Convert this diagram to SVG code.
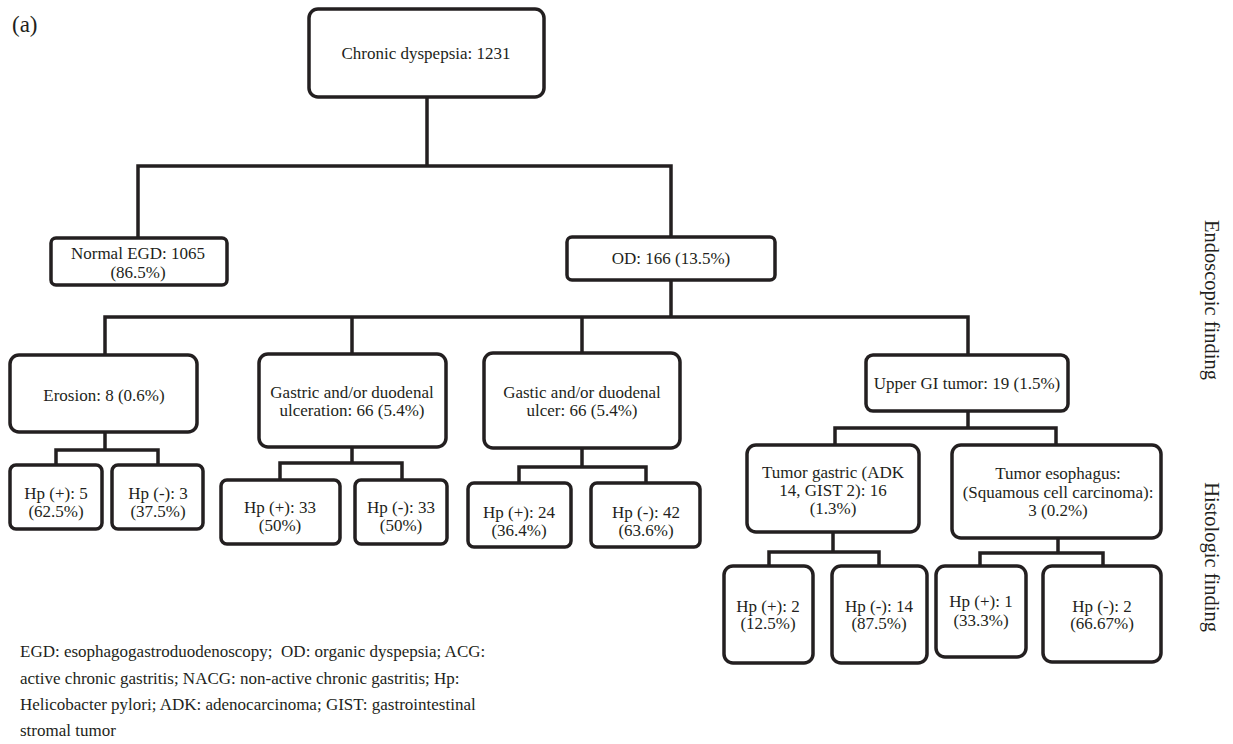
<svg xmlns="http://www.w3.org/2000/svg" width="1233" height="744" viewBox="0 0 1233 744">
<style>
.box{fill:#fff;stroke:#231f20;stroke-width:3.5}
.ln{fill:none;stroke:#231f20;stroke-width:3.5;stroke-linejoin:miter;stroke-linecap:square}
text{font-family:"Liberation Serif","Times New Roman",serif;font-size:17px;fill:#231f20}
.c{text-anchor:middle}
.cap{font-size:17px}
.side{font-size:20.5px;text-anchor:middle}
</style>
<rect width="1233" height="744" fill="#fff"/>
<text x="12" y="32" style="font-size:23px">(a)</text>

<g id="connectors">
<path class="ln" d="M427 97 V166 M138 166 H671 M138 166 V238 M671 166 V237"/>
<path class="ln" d="M671 280 V317 M105 317 H968 M105 317 V355 M352 317 V354 M582 317 V353 M968 317 V355"/>
<path class="ln" d="M105 432 V450 M56 450 H158 M56 450 V465 M158 450 V465"/>
<path class="ln" d="M352 447 V463 M280 463 H402 M280 463 V480 M402 463 V480"/>
<path class="ln" d="M582 448 V467 M519 467 H646 M519 467 V483 M646 467 V483"/>
<path class="ln" d="M968 411 V428 M835 428 H1056 M835 428 V445 M1056 428 V445"/>
<path class="ln" d="M833 532 V552 M769 552 H879 M769 552 V566 M879 552 V566"/>
<path class="ln" d="M1058 538 V553 M980 553 H1103 M980 553 V566 M1103 553 V566"/>
</g>

<g id="root">
<rect class="box" x="309" y="9" width="235" height="88" rx="9"/>
<text class="c" x="426" y="59">Chronic dyspepsia: 1231</text>
</g>
<g id="normal-egd">
<rect class="box" x="51" y="238" width="176" height="47" rx="5"/>
<text class="c" x="138" y="259">Normal EGD: 1065</text>
<text class="c" x="138" y="278">(86.5%)</text>
</g>
<g id="od">
<rect class="box" x="567" y="237" width="208" height="43" rx="5"/>
<text class="c" x="671" y="264">OD: 166 (13.5%)</text>
</g>
<g id="erosion">
<rect class="box" x="10" y="355" width="187" height="77" rx="9"/>
<text class="c" x="104" y="401">Erosion: 8 (0.6%)</text>
</g>
<g id="gastric-ulceration">
<rect class="box" x="259" y="354" width="187" height="93" rx="9"/>
<text class="c" x="352" y="398">Gastric and/or duodenal</text>
<text class="c" x="352" y="416">ulceration: 66 (5.4%)</text>
</g>
<g id="gastric-ulcer">
<rect class="box" x="484" y="353" width="196" height="95" rx="9"/>
<text class="c" x="582" y="398">Gastic and/or duodenal</text>
<text class="c" x="582" y="416">ulcer: 66 (5.4%)</text>
</g>
<g id="upper-gi">
<rect class="box" x="866" y="355" width="202" height="56" rx="7"/>
<text class="c" x="967" y="389">Upper GI tumor: 19 (1.5%)</text>
</g>
<g id="tumor-gastric">
<rect class="box" x="747" y="445" width="172" height="87" rx="9"/>
<text class="c" x="833" y="478">Tumor gastric (ADK</text>
<text class="c" x="833" y="496">14, GIST 2): 16</text>
<text class="c" x="833" y="514">(1.3%)</text>
</g>
<g id="tumor-esophagus">
<rect class="box" x="952" y="445" width="209" height="93" rx="9"/>
<text class="c" x="1058" y="479">Tumor esophagus:</text>
<text class="c" x="1058" y="498">(Squamous cell carcinoma):</text>
<text class="c" x="1058" y="516">3 (0.2%)</text>
</g>
<g id="hp-pos-5">
<rect class="box" x="10" y="465" width="92" height="64" rx="6"/>
<text class="c" x="56" y="499">Hp (+): 5</text>
<text class="c" x="56" y="517">(62.5%)</text>
</g>
<g id="hp-neg-3">
<rect class="box" x="112" y="465" width="91" height="64" rx="6"/>
<text class="c" x="158" y="499">Hp (-): 3</text>
<text class="c" x="158" y="517">(37.5%)</text>
</g>
<g id="hp-pos-33">
<rect class="box" x="221" y="480" width="119" height="64" rx="6"/>
<text class="c" x="280" y="513">Hp (+): 33</text>
<text class="c" x="280" y="531">(50%)</text>
</g>
<g id="hp-neg-33">
<rect class="box" x="355" y="480" width="92" height="64" rx="6"/>
<text class="c" x="401" y="513">Hp (-): 33</text>
<text class="c" x="401" y="531">(50%)</text>
</g>
<g id="hp-pos-24">
<rect class="box" x="468" y="483" width="103" height="64" rx="6"/>
<text class="c" x="519" y="518">Hp (+): 24</text>
<text class="c" x="519" y="536">(36.4%)</text>
</g>
<g id="hp-neg-42">
<rect class="box" x="591" y="483" width="109" height="64" rx="6"/>
<text class="c" x="646" y="518">Hp (-): 42</text>
<text class="c" x="646" y="536">(63.6%)</text>
</g>
<g id="hp-pos-2">
<rect class="box" x="724" y="566" width="89" height="97" rx="9"/>
<text class="c" x="768" y="612">Hp (+): 2</text>
<text class="c" x="768" y="629">(12.5%)</text>
</g>
<g id="hp-neg-14">
<rect class="box" x="832" y="566" width="95" height="97" rx="9"/>
<text class="c" x="879" y="612">Hp (-): 14</text>
<text class="c" x="879" y="629">(87.5%)</text>
</g>
<g id="hp-pos-1">
<rect class="box" x="936" y="566" width="90" height="91" rx="9"/>
<text class="c" x="981" y="607">Hp (+): 1</text>
<text class="c" x="981" y="626">(33.3%)</text>
</g>
<g id="hp-neg-2">
<rect class="box" x="1043" y="566" width="118" height="96" rx="9"/>
<text class="c" x="1102" y="612">Hp (-): 2</text>
<text class="c" x="1102" y="629">(66.67%)</text>
</g>

<text class="side" transform="translate(1205,300) rotate(90)">Endoscopic finding</text>
<text class="side" transform="translate(1205,557) rotate(90)">Histologic finding</text>

<g id="caption">
<text class="cap" x="20" y="657" xml:space="preserve">EGD: esophagogastroduodenoscopy;  OD: organic dyspepsia; ACG:</text>
<text class="cap" x="20" y="684">active chronic gastritis; NACG: non-active chronic gastritis; Hp:</text>
<text class="cap" x="20" y="710">Helicobacter pylori; ADK: adenocarcinoma; GIST: gastrointestinal</text>
<text class="cap" x="20" y="736">stromal tumor</text>
</g>
</svg>
